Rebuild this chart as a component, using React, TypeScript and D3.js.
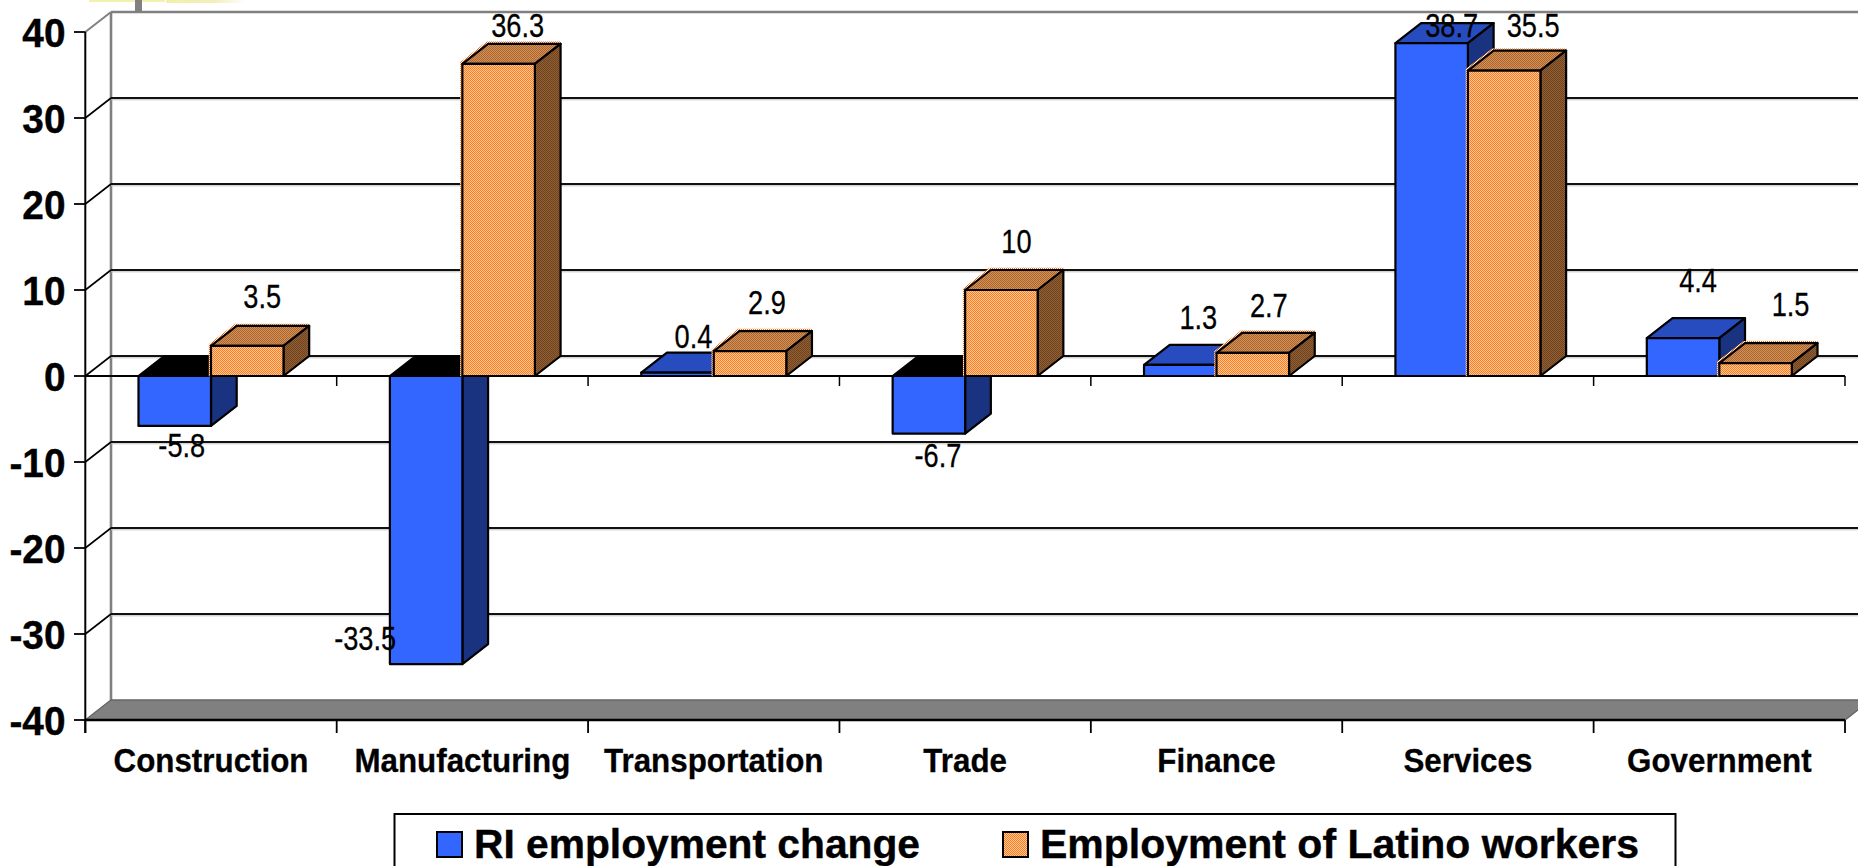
import React from "react";
import * as d3 from "d3";

const categories = ["Construction", "Manufacturing", "Transportation", "Trade", "Finance", "Services", "Government"];
const riEmploymentChange = [-5.8, -33.5, 0.4, -6.7, 1.3, 38.7, 4.4];
const latinoEmployment = [3.5, 36.3, 2.9, 10, 2.7, 35.5, 1.5];
const seriesNames = ["RI employment change", "Employment of Latino workers"];
const yTicks = [40, 30, 20, 10, 0, -10, -20, -30, -40];

// label offsets from each bar's top centre (manual layout, as the original chart placed them)
const riLabelNudge = [[7, 31], [-61, -14], [16, -25], [9, 33], [18, -36], [20, -6], [15, -46]];
const latinoLabelNudge = [[15, -38], [19, -27], [17, -37], [15, -37], [16, -36], [29, -34], [35, -47]];

const W = 1858, H = 866;
const DX = 25.7, DY = -20;
const FONT = "'Liberation Sans', Arial, sans-serif";

const y = d3.scaleLinear().domain([-40, 40]).range([720, 32]);
const x = d3.scaleBand<string>().domain(categories).range([85.3, 1845]).padding(0);
const BAR_W = 72.5;
const sub = d3.scaleBand<string>().domain(seriesNames).range([0, BAR_W * 2]);
const tickXs = [...categories.map((c) => x(c) as number), 1845];
const pts = (a: number[][]) => a.map((p) => p.join(",")).join(" ");

const BLUE = { front: "#3366ff", top: "#264cbf", side: "#1a3380" };

function Bar({ cat, name, value, orange }: { cat: string; name: string; value: number; orange: boolean }) {
  const x0 = (x(cat) as number) + x.bandwidth() / 2 - BAR_W + (sub(name) as number);
  const x1 = x0 + BAR_W;
  const zero = y(0);
  const v = y(value);
  const yTop = Math.min(zero, v);
  const yBot = Math.max(zero, v);
  const neg = value < 0;
  const front = orange ? "url(#dFront)" : BLUE.front;
  const topFill = neg ? "#000" : orange ? "url(#dTop)" : BLUE.top;
  const sideFill = orange ? "url(#dSide)" : BLUE.side;
  const common = { stroke: "#000", strokeWidth: 2.2, strokeLinejoin: "round" as const };
  const hull = [[x0, yBot], [x0, yTop], [x0 + DX, yTop + DY], [x1 + DX, yTop + DY], [x1 + DX, yBot + DY], [x1, yBot]];
  return (
    <g>
      {orange && (
        <polygon points={pts(hull)} transform="translate(-1,-1)" fill="none" stroke="url(#dHalo)" strokeWidth={2.4} />
      )}
      <polygon points={pts([[x0, yTop], [x0 + DX, yTop + DY], [x1 + DX, yTop + DY], [x1, yTop]])} fill={topFill} {...common} />
      <polygon points={pts([[x1, yTop], [x1 + DX, yTop + DY], [x1 + DX, yBot + DY], [x1, yBot]])} fill={sideFill} {...common} />
      <rect x={x0} y={yTop} width={BAR_W} height={yBot - yTop} fill={front} {...common} />
    </g>
  );
}

function DataLabel({ cat, name, value, nudge }: { cat: string; name: string; value: number; nudge: number[] }) {
  const cx = (x(cat) as number) + x.bandwidth() / 2 - BAR_W / 2 + (sub(name) as number);
  return (
    <text
      transform={`translate(${cx + nudge[0]},${y(value) + nudge[1]}) scale(0.8,1)`}
      textAnchor="middle"
      fontFamily={FONT}
      fontSize={34}
      fill="#000"
      stroke="#000"
      strokeWidth={0.3}
    >
      {String(value)}
    </text>
  );
}

export default function App() {
  const wallX = 85.3 + DX;
  return (
    <svg width={W} height={H} viewBox={`0 0 ${W} ${H}`} style={{ position: "absolute", left: 0, top: 0, display: "block", background: "#fff" }}>
      <defs>
        <linearGradient id="yel" x1="0" x2="1" y1="0" y2="0">
          <stop offset="0" stopColor="#f4f0a8" />
          <stop offset="0.6" stopColor="#f2eebb" />
          <stop offset="1" stopColor="#ffffff" />
        </linearGradient>
        <pattern id="dFront" width="2" height="2" patternUnits="userSpaceOnUse">
          <rect width="2" height="2" fill="#ffcc99" />
          <rect width="1" height="1" fill="#ff7a1f" />
          <rect x="1" y="1" width="1" height="1" fill="#ff7a1f" />
        </pattern>
        <pattern id="dTop" width="2" height="2" patternUnits="userSpaceOnUse">
          <rect width="2" height="2" fill="#bf9966" />
          <rect width="1" height="1" fill="#bf5c20" />
          <rect x="1" y="1" width="1" height="1" fill="#bf5c20" />
        </pattern>
        <pattern id="dSide" width="2" height="2" patternUnits="userSpaceOnUse">
          <rect width="2" height="2" fill="#806640" />
          <rect width="1" height="1" fill="#803d14" />
          <rect x="1" y="1" width="1" height="1" fill="#803d14" />
        </pattern>
        <pattern id="dHalo" width="2" height="2" patternUnits="userSpaceOnUse">
          <rect width="2" height="2" fill="#ffffff" />
          <rect width="1" height="1" fill="#ff6600" />
          <rect x="1" y="1" width="1" height="1" fill="#ff6600" />
        </pattern>
      </defs>

      {/* scrap of the slide decoration at the top edge */}
      <rect x={89} y={0} width={76} height={2} fill="#f4f0b0" />
      <rect x={166} y={0} width={80} height={3} fill="url(#yel)" />
      <rect x={135} y={0} width={7} height={12} fill="#808080" />

      {/* back wall */}
      <line x1={wallX} y1={y(40) + DY} x2={W} y2={y(40) + DY} stroke="#808080" strokeWidth={2.6} />
      <line x1={wallX} y1={y(40) + DY} x2={wallX} y2={y(-40) + DY} stroke="#808080" strokeWidth={2.6} />
      <line x1={85.3} y1={y(40)} x2={wallX} y2={y(40) + DY} stroke="#808080" strokeWidth={2} />

      {/* gridlines on the wall and side diagonals */}
      {yTicks.filter((t) => t > -40 && t < 40).map((t) => (
        <g key={t}>
          <line x1={wallX} y1={y(t) + DY + 1.8} x2={W} y2={y(t) + DY + 1.8} stroke="#c0c0c0" strokeWidth={1} />
          <line x1={wallX} y1={y(t) + DY} x2={W} y2={y(t) + DY} stroke="#111" strokeWidth={2.2} />
          <line x1={85.3} y1={y(t)} x2={wallX} y2={y(t) + DY} stroke="#000" strokeWidth={1.6} />
        </g>
      ))}

      {/* floor */}
      <polygon
        points={pts([[85.3, y(-40)], [wallX, y(-40) + DY], [1845 + DX, y(-40) + DY], [1845, y(-40)]])}
        fill="#808080"
        stroke="#666"
        strokeWidth={1.5}
      />

      {/* zero plane axis */}
      <line x1={85.3} y1={y(0)} x2={1845} y2={y(0)} stroke="#000" strokeWidth={2.2} />
      {tickXs.slice(1).map((t) => (
        <line key={t} x1={t} y1={y(0)} x2={t} y2={y(0) + 10} stroke="#000" strokeWidth={1.5} />
      ))}

      {/* bars */}
      {categories.map((c, i) => (
        <g key={c}>
          <Bar cat={c} name={seriesNames[0]} value={riEmploymentChange[i]} orange={false} />
          <Bar cat={c} name={seriesNames[1]} value={latinoEmployment[i]} orange={true} />
        </g>
      ))}

      {/* y axis */}
      <line x1={85.3} y1={y(40)} x2={85.3} y2={y(-40) + 13} stroke="#000" strokeWidth={2} />
      {yTicks.map((t) => (
        <g key={t}>
          <line x1={74} y1={y(t)} x2={85.3} y2={y(t)} stroke="#000" strokeWidth={1.8} />
          <text
            transform={`translate(65.5,${y(t) + 15}) scale(0.97,1)`}
            textAnchor="end"
            fontFamily={FONT}
            fontWeight={700}
            fontSize={40}
            fill="#000"
            stroke="#000"
            strokeWidth={0.4}
          >
            {t}
          </text>
        </g>
      ))}

      {/* bottom axis */}
      <line x1={85.3} y1={y(-40)} x2={1845} y2={y(-40)} stroke="#000" strokeWidth={2.6} />
      {tickXs.map((t) => (
        <line key={t} x1={t} y1={y(-40)} x2={t} y2={y(-40) + 13} stroke="#000" strokeWidth={1.8} />
      ))}
      {categories.map((c) => (
        <text
          key={c}
          transform={`translate(${(x(c) as number) + x.bandwidth() / 2},772) scale(0.95,1)`}
          textAnchor="middle"
          fontFamily={FONT}
          fontWeight={700}
          fontSize={33}
          fill="#000"
          stroke="#000"
          strokeWidth={0.3}
        >
          {c}
        </text>
      ))}

      {/* data labels */}
      {categories.map((c, i) => (
        <g key={c}>
          <DataLabel cat={c} name={seriesNames[0]} value={riEmploymentChange[i]} nudge={riLabelNudge[i]} />
          <DataLabel cat={c} name={seriesNames[1]} value={latinoEmployment[i]} nudge={latinoLabelNudge[i]} />
        </g>
      ))}

      {/* legend */}
      <rect x={394.5} y={814} width={1281} height={80} fill="none" stroke="#000" strokeWidth={2} />
      <rect x={437} y={832} width={25} height={25} fill={BLUE.front} stroke="#000" strokeWidth={2} />
      <text x={474} y={858} fontFamily={FONT} fontWeight={700} fontSize={41} fill="#000" stroke="#000" strokeWidth={0.4} textLength={446} lengthAdjust="spacingAndGlyphs">
        {seriesNames[0]}
      </text>
      <rect x={1003} y={832} width={25} height={25} fill="url(#dFront)" stroke="#000" strokeWidth={2} />
      <text x={1040} y={858} fontFamily={FONT} fontWeight={700} fontSize={41} fill="#000" stroke="#000" strokeWidth={0.4} textLength={599} lengthAdjust="spacingAndGlyphs">
        {seriesNames[1]}
      </text>
    </svg>
  );
}
